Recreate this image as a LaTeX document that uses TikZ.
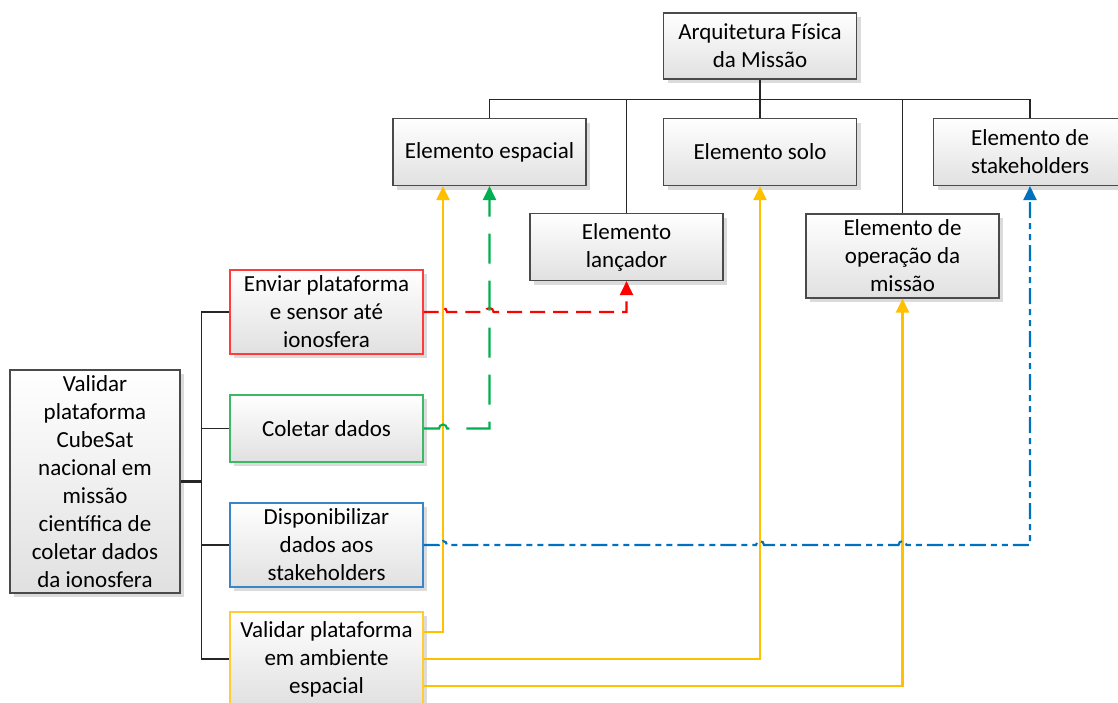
\documentclass[tikz,border=0pt]{standalone}
\usepackage{fontspec}
\setmainfont{Carlito}
\usetikzlibrary{arrows.meta,shadows,calc}
\definecolor{lred}{HTML}{FF0000}
\definecolor{lgreen}{HTML}{00B050}
\definecolor{lblue}{HTML}{0070C0}
\definecolor{lyellow}{HTML}{FFC000}
\definecolor{bred}{HTML}{FF3B3B}
\definecolor{bgreen}{HTML}{3DB865}
\definecolor{bblue}{HTML}{3A85C8}
\definecolor{byellow}{HTML}{FFCC33}
\definecolor{bgray}{HTML}{4A4A4A}
\tikzset{
  box/.style={rectangle, draw=bgray, line width=1.1pt, top color=white, bottom color=black!12,
    minimum width=193pt, minimum height=67pt, inner sep=0pt, align=center,
    font=\fontsize{23}{28}\selectfont,
    drop shadow={shadow xshift=4pt, shadow yshift=-4pt, fill=black!14, opacity=1}},
  tree/.style={draw=black!85, line width=1.2pt},
  conn/.style={line width=2.1pt, -{Triangle[length=14pt,width=13pt]}},
  redc/.style={conn, lred, dash pattern=on 15pt off 8pt},
  greenc/.style={conn, lgreen, dash pattern=on 30pt off 17pt},
  bluec/.style={conn, lblue, dash pattern=on 16pt off 5pt on 6pt off 5pt on 6pt off 5pt},
  yellc/.style={conn, lyellow},
}
\begin{document}
\begin{tikzpicture}[x=1pt,y=-1pt]
\useasboundingbox (0,0) rectangle (1118,702);

% top hierarchy
\node[box, minimum height=66pt] (top) at (760,46) {Arquitetura Física\\da Missão};
\node[box] (esp) at (489.5,152) {Elemento espacial};
\node[box] (solo) at (760,152) {Elemento solo};
\node[box] (stake) at (1030,152) {Elemento de\\stakeholders};
\node[box] (lanc) at (626.5,247) {Elemento\\lançador};
\node[box, minimum height=84pt] (oper) at (902.5,256) {Elemento de\\operação da\\missão};

% left hierarchy
\node[box, minimum width=170pt, minimum height=223pt] (big) at (95,481.5)
  {Validar\\plataforma\\CubeSat\\nacional em\\missão\\científica de\\coletar dados\\da ionosfera};
\node[box, draw=bred, minimum height=84pt] (enviar) at (326.5,312) {Enviar plataforma\\e sensor até\\ionosfera};
\node[box, draw=bgreen] (coletar) at (326.5,428.5) {Coletar dados};
\node[box, draw=bblue, minimum height=84pt] (disp) at (326.5,545) {Disponibilizar\\dados aos\\stakeholders};
\node[box, draw=byellow, minimum height=94pt] (valid) at (326.5,659) {Validar plataforma\\em ambiente\\espacial};

% tree lines top
\coordinate (bus) at ($(top.south)+(0,20)$);
\draw[tree] (top.south) -- (bus);
\draw[tree] (bus) -| (esp.north);
\draw[tree] (bus) -| (lanc.north);
\draw[tree] (bus) -| (solo.north);
\draw[tree] (bus) -| (oper.north);
\draw[tree] (bus) -| (stake.north);

% tree lines left
\coordinate (trunk) at ($(big.east)+(21,0)$);
\draw[tree, line width=2.2pt] (big.east) -- (trunk);
\draw[tree] (trunk) |- (enviar.west);
\draw[tree] (trunk) |- (coletar.west);
\draw[tree] (trunk) |- (disp.west);
\draw[tree] (trunk) |- (valid.west);

% yellow connectors
\coordinate (ye) at ([xshift=-46.5pt]esp.south);
\draw[yellc] ([yshift=27pt]valid.east) -| (ye);
\draw[yellc] (valid.east) -| (solo.south);
\draw[yellc] ([yshift=-27pt]valid.east) -| (oper.south);

% red connector
\draw[redc] (enviar.east) -- (439,312) arc[start angle=180,end angle=360,radius=4]
  -- (485.5,312) arc[start angle=180,end angle=360,radius=4] -| (lanc.south);

% green connector
\draw[greenc] (coletar.east) -- (439,428.5) arc[start angle=180,end angle=360,radius=4]
  -| (esp.south);

% blue connector
\draw[bluec] (disp.east) -- (439,545) arc[start angle=180,end angle=360,radius=4]
  -- (756,545) arc[start angle=180,end angle=360,radius=4]
  -- (898.5,545) arc[start angle=180,end angle=360,radius=4]
  -| (stake.south);
\end{tikzpicture}
\end{document}
